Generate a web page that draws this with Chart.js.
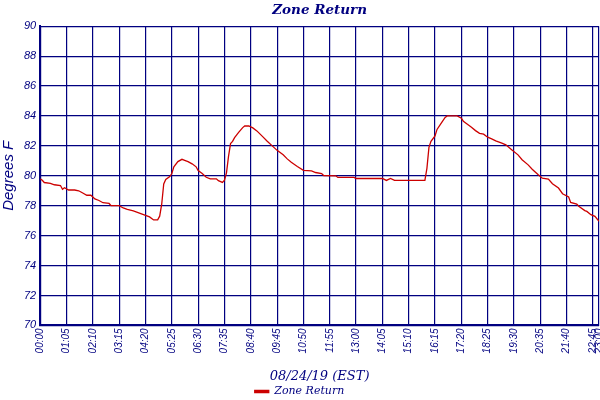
<!DOCTYPE html>
<html>
<head>
<meta charset="utf-8">
<script src="https://cdn.jsdelivr.net/npm/chart.js@4.4.1/dist/chart.umd.min.js"></script>
<style>
  html, body { margin: 0; padding: 0; background: #fff; }
  #wrap { width: 600px; height: 400px; }
</style>
</head>
<body>
<div id="wrap"><canvas id="chart"></canvas></div>
<script>
// minutes since midnight
const times = [
  0, 5, 10, 25, 35, 50, 55, 60, 70, 85, 95, 105, 115, 125, 135, 145, 155, 170, 175, 195,
  205, 215, 230, 240, 255, 270, 280, 290, 295, 300, 305, 310, 320, 325, 330, 340, 350, 360, 365, 375,
  385, 390, 400, 410, 420, 435, 440, 450, 455, 460, 465, 470, 475, 480, 490, 500, 505, 515, 525, 535,
  550, 560, 575, 585, 600, 610, 620, 635, 650, 670, 680, 695, 700, 730, 735, 775, 780, 845, 855, 865,
  875, 950, 955, 960, 965, 975, 980, 990, 1000, 1005, 1030, 1040, 1045, 1055, 1065, 1075, 1085, 1095, 1105, 1115,
  1125, 1140, 1150, 1160, 1165, 1180, 1190, 1205, 1215, 1230, 1240, 1255, 1265, 1280, 1290, 1305, 1310, 1325, 1330, 1345,
  1350, 1360, 1370, 1380
];
const temps = [
  79.8, 79.7, 79.55, 79.5, 79.4, 79.35, 79.1, 79.2, 79.05, 79.05, 79.0, 78.85, 78.7, 78.7, 78.45, 78.35, 78.2, 78.15, 78.0, 78.0,
  77.85, 77.75, 77.65, 77.55, 77.4, 77.25, 77.05, 77.05, 77.3, 78.1, 79.45, 79.75, 79.95, 80.15, 80.6, 80.95, 81.1, 81.0, 80.95, 80.8,
  80.6, 80.35, 80.15, 79.9, 79.8, 79.8, 79.67, 79.56, 79.7, 80.2, 81.3, 82.15, 82.3, 82.55, 82.9, 83.22, 83.33, 83.33, 83.2, 83.0,
  82.6, 82.33, 81.95, 81.7, 81.4, 81.13, 80.9, 80.62, 80.36, 80.33, 80.22, 80.15, 80.02, 80.0, 79.89, 79.89, 79.82, 79.82, 79.69, 79.82,
  79.69, 79.69, 80.5, 81.9, 82.3, 82.67, 83.1, 83.5, 83.9, 84.0, 84.0, 83.85, 83.65, 83.45, 83.24, 83.02, 82.84, 82.78, 82.58, 82.47,
  82.33, 82.18, 82.07, 81.84, 81.73, 81.4, 81.07, 80.73, 80.44, 80.07, 79.84, 79.78, 79.47, 79.18, 78.8, 78.58, 78.22, 78.11, 77.96, 77.67,
  77.62, 77.4, 77.29, 76.96
];
// x tick positions: every 65 minutes, plus the end
const xTicks = [0, 65, 130, 195, 260, 325, 390, 455, 520, 585, 650, 715, 780, 845, 910, 975, 1040, 1105, 1170, 1235, 1300, 1365, 1380];

const navy = "#000080";
const fmt = m => String(Math.floor(m / 60)).padStart(2, "0") + ":" + String(m % 60).padStart(2, "0");

new Chart(document.getElementById("chart"), {
  type: "line",
  data: {
    datasets: [{
      label: "Zone Return",
      data: times.map((t, i) => ({ x: t, y: temps[i] })),
      borderColor: "#cc0000",
      backgroundColor: "#cc0000",
      borderWidth: 1.3,
      pointRadius: 0,
      tension: 0
    }]
  },
  options: {
    responsive: true,
    maintainAspectRatio: false,
    animation: false,
    layout: { padding: { top: 2, right: 1, left: 0, bottom: -7 } },
    plugins: {
      title: {
        display: true,
        text: "Zone Return",
        fullSize: false,
        color: navy,
        font: { family: "'DejaVu Serif'", size: 13.5, style: "italic", weight: "bold" },
        padding: { top: 0, bottom: 8 }
      },
      legend: {
        position: "bottom",
        labels: {
          color: navy,
          boxWidth: 14,
          boxHeight: 2,
          padding: 2,
          font: { family: "'DejaVu Serif'", size: 11, style: "italic" }
        }
      },
      tooltip: { enabled: false }
    },
    scales: {
      x: {
        type: "linear",
        min: 0,
        max: 1380,
        afterBuildTicks: axis => { axis.ticks = xTicks.map(v => ({ value: v })); },
        afterFit: axis => { axis.paddingLeft = 0; axis.paddingRight = 0; },
        ticks: {
          autoSkip: false,
          maxRotation: 90,
          minRotation: 90,
          padding: 3,
          color: navy,
          font: { family: "'Liberation Sans'", size: 10, style: "italic" },
          callback: v => fmt(v)
        },
        grid: { color: navy, lineWidth: 1.2, drawTicks: false },
        border: { color: navy, width: 2 },
        title: {
          display: true,
          text: "08/24/19 (EST)",
          color: navy,
          font: { family: "'DejaVu Serif'", size: 13, style: "italic" },
          padding: { top: 12, bottom: 0 }
        }
      },
      y: {
        min: 70,
        max: 90,
        ticks: {
          stepSize: 2,
          padding: 4,
          color: navy,
          font: { family: "'Liberation Sans'", size: 11, style: "italic" }
        },
        grid: { color: navy, lineWidth: 1.2, drawTicks: false },
        border: { color: navy, width: 2 },
        title: {
          display: true,
          text: "Degrees F",
          color: navy,
          font: { family: "'Liberation Sans'", size: 15, style: "italic" },
          padding: { top: 0, bottom: 2 }
        }
      }
    }
  }
});
</script>
</body>
</html>
